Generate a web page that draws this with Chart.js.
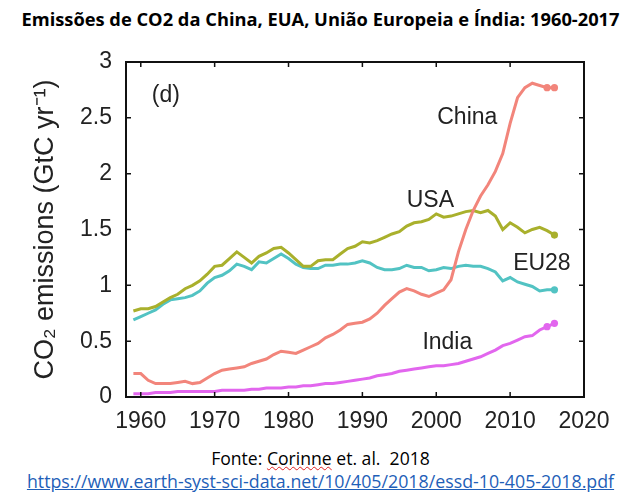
<!DOCTYPE html>
<html>
<head>
<meta charset="utf-8">
<script src="https://cdn.jsdelivr.net/npm/chart.js@4"></script>
<style>
  body { margin: 0; background: #fff; width: 641px; height: 501px; position: relative; overflow: hidden; }
  .title { position: absolute; top: 6px; left: 0; width: 641px; text-align: center;
    font: bold 18.3px "Open Sans", sans-serif; color: #000; }
  .chartBox { position: absolute; top: 40px; left: 0; width: 641px; height: 400px; }
  .source { position: absolute; top: 446px; left: 0; width: 641px; text-align: center;
    font: 17.6px "Open Sans", sans-serif; color: #000; }
  .spell { text-decoration: underline wavy #e02020; text-decoration-thickness: 1px; }
  .link { position: absolute; top: 469px; left: 0; width: 641px; text-align: center;
    font: 17.8px "Open Sans", sans-serif; color: #1f5fb8; text-decoration: underline; }
</style>
</head>
<body>
<div class="title">Emissões de CO2 da China, EUA, União Europeia e Índia: 1960-2017</div>
<div class="chartBox"><canvas id="co2" width="641" height="400"></canvas></div>
<div class="source">Fonte: <span class="spell">Corinne</span> et. al.&nbsp; 2018</div>
<div class="link">https://www.earth-syst-sci-data.net/10/405/2018/essd-10-405-2018.pdf</div>

<script>
// data (GtC per year)
const years = [1959, 1960, 1961, 1962, 1963, 1964, 1965, 1966, 1967, 1968, 1969,
    1970, 1971, 1972, 1973, 1974, 1975, 1976, 1977, 1978, 1979,
    1980, 1981, 1982, 1983, 1984, 1985, 1986, 1987, 1988, 1989,
    1990, 1991, 1992, 1993, 1994, 1995, 1996, 1997, 1998, 1999,
    2000, 2001, 2002, 2003, 2004, 2005, 2006, 2007, 2008, 2009,
    2010, 2011, 2012, 2013, 2014, 2015, 2016]

const china = [0.21, 0.21, 0.15, 0.12, 0.12, 0.12, 0.13, 0.14, 0.12, 0.13, 0.17,
    0.21, 0.24, 0.25, 0.26, 0.27, 0.30, 0.32, 0.34, 0.38, 0.41,
    0.40, 0.39, 0.42, 0.45, 0.48, 0.53, 0.56, 0.60, 0.65, 0.66,
    0.67, 0.70, 0.75, 0.82, 0.88, 0.94, 0.97, 0.95, 0.92, 0.90,
    0.93, 0.96, 1.05, 1.30, 1.50, 1.67, 1.80, 1.90, 2.02, 2.18,
    2.45, 2.68, 2.77, 2.81, 2.79, 2.77, 2.77]

const usa = [0.77, 0.79, 0.79, 0.81, 0.85, 0.89, 0.92, 0.97, 1.00, 1.04, 1.10,
    1.17, 1.18, 1.24, 1.30, 1.25, 1.20, 1.26, 1.29, 1.33, 1.34,
    1.29, 1.23, 1.17, 1.17, 1.22, 1.23, 1.23, 1.28, 1.33, 1.35,
    1.39, 1.38, 1.40, 1.43, 1.46, 1.48, 1.53, 1.56, 1.57, 1.59,
    1.64, 1.61, 1.62, 1.64, 1.66, 1.67, 1.65, 1.67, 1.62, 1.50,
    1.56, 1.52, 1.47, 1.50, 1.52, 1.49, 1.45]

const eu28 = [0.69, 0.72, 0.75, 0.78, 0.83, 0.87, 0.88, 0.89, 0.91, 0.95, 1.02,
    1.07, 1.09, 1.13, 1.19, 1.17, 1.14, 1.21, 1.20, 1.24, 1.28,
    1.24, 1.19, 1.16, 1.15, 1.15, 1.18, 1.18, 1.19, 1.19, 1.20,
    1.22, 1.20, 1.16, 1.14, 1.14, 1.15, 1.18, 1.16, 1.16, 1.13,
    1.14, 1.16, 1.15, 1.17, 1.18, 1.17, 1.17, 1.15, 1.12, 1.04,
    1.07, 1.03, 1.01, 0.99, 0.95, 0.96, 0.96]

const india = [0.03, 0.03, 0.03, 0.04, 0.04, 0.04, 0.05, 0.05, 0.05, 0.05, 0.05,
    0.05, 0.06, 0.06, 0.06, 0.06, 0.07, 0.07, 0.08, 0.08, 0.08,
    0.09, 0.09, 0.10, 0.10, 0.11, 0.12, 0.12, 0.13, 0.14, 0.15,
    0.16, 0.17, 0.19, 0.20, 0.21, 0.23, 0.24, 0.25, 0.26, 0.27,
    0.28, 0.28, 0.29, 0.30, 0.32, 0.34, 0.36, 0.39, 0.42, 0.46,
    0.48, 0.51, 0.54, 0.55, 0.60, 0.63, 0.66]

const xTicks = [1960, 1970, 1980, 1990, 2000, 2010, 2020]
const yTicks = [0, 0.5, 1, 1.5, 2, 2.5, 3]

// years that carry a dot at the end of each line
const markChina = [2015, 2016]
const markUsa = [2016]
const markEu = [2016]
const markIndia = [2015, 2016]

// text written inside the plot, in data coordinates
const notes = [
    {text: '(d)', x: 1963.4, y: 2.70},
    {text: 'China', x: 2004.2, y: 2.50},
    {text: 'USA', x: 1999.2, y: 1.76},
    {text: 'EU28', x: 2014.3, y: 1.19},
    {text: 'India', x: 2001.5, y: 0.49},
]

const axisFont = '"Liberation Sans", Arial, sans-serif'

function series(label, values, color, marks) {
    return {
        label: label,
        data: years.map((yr, i) => ({x: yr, y: values[i]})),
        borderColor: color,
        backgroundColor: color,
        borderWidth: 3,
        tension: 0,
        pointRadius: years.map(yr => marks.includes(yr) ? 3.6 : 0),
        pointBorderWidth: 0,
    }
}

const frame = {
    id: 'frame',
    afterDraw(chart) {
        const {ctx, chartArea: a, scales: {x, y}} = chart
        ctx.save()
        ctx.strokeStyle = '#111'
        ctx.lineWidth = 2
        ctx.strokeRect(a.left, a.top, a.right - a.left, a.bottom - a.top)
        ctx.lineWidth = 1.5
        ctx.beginPath()
        xTicks.forEach(v => {
            const px = x.getPixelForValue(v)
            ctx.moveTo(px, a.bottom); ctx.lineTo(px, a.bottom - 5)
            ctx.moveTo(px, a.top); ctx.lineTo(px, a.top + 5)
        })
        yTicks.forEach(v => {
            const py = y.getPixelForValue(v)
            ctx.moveTo(a.left, py); ctx.lineTo(a.left + 5, py)
            ctx.moveTo(a.right, py); ctx.lineTo(a.right - 5, py)
        })
        ctx.stroke()

        ctx.fillStyle = '#222'
        ctx.font = '23px ' + axisFont
        ctx.textAlign = 'center'
        ctx.textBaseline = 'middle'
        notes.forEach(n => ctx.fillText(n.text, x.getPixelForValue(n.x), y.getPixelForValue(n.y)))
        ctx.restore()
    }
}

new Chart(document.getElementById('co2'), {
    type: 'line',
    data: {
        datasets: [
            series('China', china, '#f2857b', markChina),
            series('USA', usa, '#a9b02c', markUsa),
            series('EU28', eu28, '#52c3c3', markEu),
            series('India', india, '#e266ee', markIndia),
        ]
    },
    plugins: [frame],
    options: {
        responsive: false,
        devicePixelRatio: 1,
        animation: false,
        layout: {padding: {top: 22, right: 57, left: 14, bottom: 0}},
        plugins: {legend: {display: false}, tooltip: {enabled: false}},
        scales: {
            x: {
                type: 'linear',
                min: 1958,
                max: 2020,
                afterBuildTicks: s => { s.ticks = xTicks.map(v => ({value: v})) },
                afterFit: s => { s.height = 43 },
                grid: {display: false},
                border: {display: false},
                ticks: {color: '#222', font: {family: axisFont, size: 23}, padding: 3,
                    maxRotation: 0, callback: v => String(v)}
            },
            y: {
                min: 0,
                max: 3,
                afterBuildTicks: s => { s.ticks = yTicks.map(v => ({value: v})) },
                afterFit: s => { s.width = 112 },
                grid: {display: false},
                border: {display: false},
                ticks: {color: '#222', font: {family: axisFont, size: 23}, padding: 6,
                    callback: v => String(v)},
                title: {display: true, text: 'CO₂ emissions (GtC yr⁻¹)', color: '#222',
                    font: {family: axisFont, size: 27}, padding: {top: 15, bottom: 0}}
            }
        }
    }
})
</script>
</body>
</html>
